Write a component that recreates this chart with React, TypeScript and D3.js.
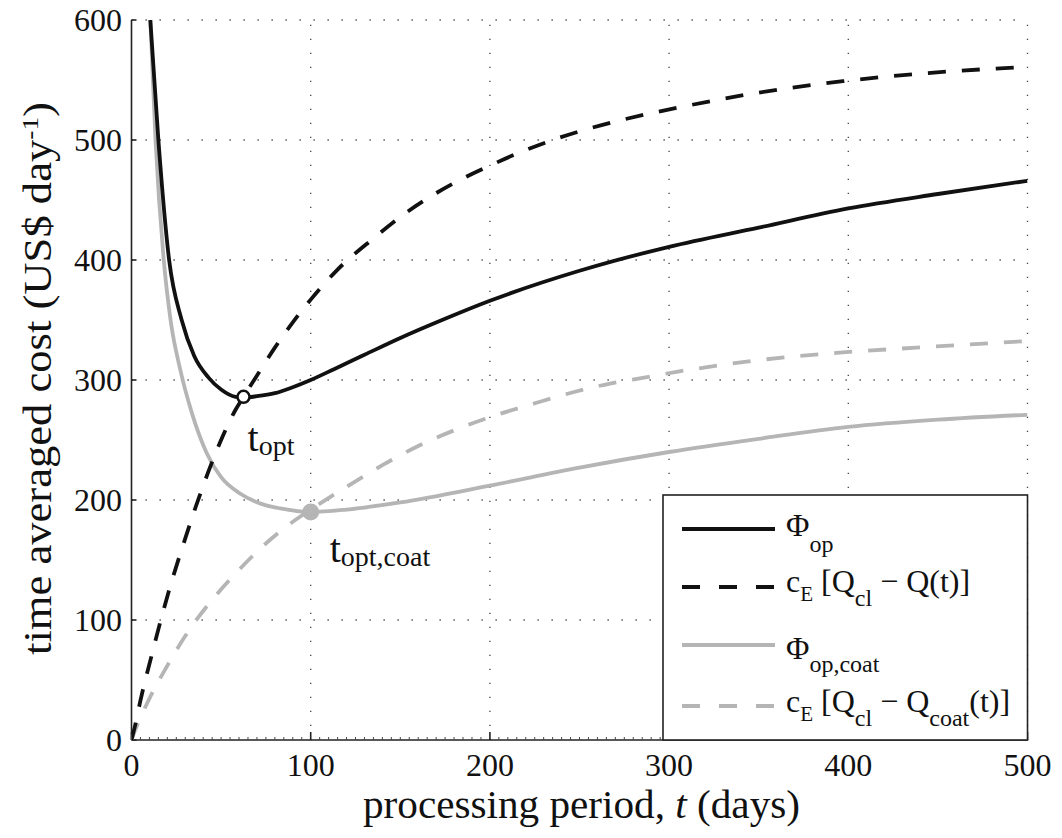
import React, { useEffect } from "react";
import * as d3 from "d3";

// Φop (black solid)
const phiOpT = [10.5, 15, 21, 28, 35, 43, 50, 58, 63, 70, 80, 90, 100, 113, 130, 150, 175, 200, 250, 300, 350, 400, 450, 500];
const phiOpV = [600, 500, 400, 350, 320, 302, 292, 286, 285.5, 286.5, 289, 294, 300, 309, 321, 335, 351, 366, 391, 411, 427, 443, 455, 466];

// cE [Qcl - Q(t)] (black dashed)
const cQT = [0, 2, 5, 11.5, 16, 22, 30, 36, 43, 50, 58, 62.5, 71, 80, 90, 100, 115, 135, 151, 167, 185, 202, 219, 237, 269, 286, 305, 344, 397, 438, 500];
const cQV = [0, 12, 33, 72, 98, 130, 168, 195, 224, 250, 275, 286, 306, 327, 348, 367, 392, 418, 437, 453, 468, 480, 491, 501, 515, 521, 527, 538, 549, 555, 561];

// Φop,coat (grey solid)
const phiCoatT = [10.5, 13.4, 18, 21.8, 27.3, 33.8, 42, 50, 61, 72, 83, 100, 120, 150, 200, 250, 300, 350, 400, 450, 500];
const phiCoatV = [600, 500, 400, 350, 308, 272, 239, 219, 205, 197, 193, 190, 192, 198, 212, 227, 240, 251, 261, 267, 271];

// cE [Qcl - Qcoat(t)] (grey dashed)
const cQCoatT = [0, 2, 9.5, 20, 31, 44, 57, 68, 79, 94, 100, 120, 140, 160, 180, 200, 226, 247, 267, 286, 305, 327, 347, 372, 397, 438, 500];
const cQCoatV = [0, 8, 33, 62, 89, 115, 137, 154, 169, 186, 192, 211, 229, 245, 258, 269, 281, 290, 297, 302, 307, 312, 316, 320, 323, 327, 332.5];

const xTicks = [0, 100, 200, 300, 400, 500];
const yTicks = [0, 100, 200, 300, 400, 500, 600];

const tOpt = { t: 62.5, v: 286 };
const tOptCoat = { t: 100, v: 190 };

const FONT = "'Liberation Serif', 'Times New Roman', Times, serif";
const GREY = "#b5b5b5";

const App = () => {
  useEffect(() => {
    document.body.style.margin = "0";
  }, []);

  const x = d3.scaleLinear().domain([0, 500]).range([131.5, 1027.5]);
  const y = d3.scaleLinear().domain([0, 600]).range([740, 20]);

  const line = d3
    .line<[number, number]>()
    .x((d) => x(d[0]))
    .y((d) => y(d[1]))
    .curve(d3.curveMonotoneX);

  const zip = (ts: number[], vs: number[]) => ts.map((t, i) => [t, vs[i]] as [number, number]);

  const minorTicks = d3.range(0, 501, 5).filter((v) => v % 100 !== 0);

  return (
    <svg width={1062} height={838} style={{ display: "block", background: "#fff", fontFamily: FONT }}>
      <defs>
        <clipPath id="plot">
          <rect x={x(0)} y={y(600)} width={x(500) - x(0)} height={y(0) - y(600)} />
        </clipPath>
      </defs>

      {/* grid */}
      <g stroke="#444" strokeWidth={1.3} strokeDasharray="1.3,12.7">
        {xTicks.slice(1).map((v) => (
          <line key={"gx" + v} x1={x(v)} x2={x(v)} y1={y(0)} y2={y(600)} />
        ))}
        {yTicks.slice(1).map((v) => (
          <line key={"gy" + v} x1={x(0)} x2={x(500)} y1={y(v)} y2={y(v)} />
        ))}
      </g>

      {/* axes */}
      <g stroke="#222" strokeWidth={1.6}>
        <line x1={x(0)} x2={x(0)} y1={y(0)} y2={y(600)} />
        <line x1={x(0)} x2={x(500)} y1={y(0)} y2={y(0)} />
        {xTicks.map((v) => (
          <line key={"tx" + v} x1={x(v)} x2={x(v)} y1={y(0)} y2={y(0) - 8} />
        ))}
        {yTicks.map((v) => (
          <line key={"ty" + v} x1={x(0)} x2={x(0) + 5} y1={y(v)} y2={y(v)} />
        ))}
      </g>
      <g stroke="#444" strokeWidth={1}>
        {minorTicks.map((v) => (
          <line key={"mx" + v} x1={x(v)} x2={x(v)} y1={y(0)} y2={y(0) - 3} />
        ))}
      </g>

      {/* tick labels */}
      <g fontSize={32} fill="#111">
        {xTicks.map((v) => (
          <text key={"lx" + v} x={x(v)} y={776} textAnchor="middle">
            {v}
          </text>
        ))}
        {yTicks.map((v) => (
          <text key={"ly" + v} x={122} y={y(v) + 11} textAnchor="end">
            {v}
          </text>
        ))}
      </g>

      {/* axis titles */}
      <text x={363} y={818} fontSize={39} textLength={437} lengthAdjust="spacingAndGlyphs" fill="#111">
        processing period, <tspan fontStyle="italic">t</tspan> (days)
      </text>
      <text transform="translate(51,655) rotate(-90)" fontSize={39} textLength={553} lengthAdjust="spacingAndGlyphs" fill="#111">
        time averaged cost (US$ day
        <tspan dy={-13} fontSize={24}>-1</tspan>
        <tspan dy={13}>)</tspan>
      </text>

      {/* curves */}
      <g clipPath="url(#plot)" fill="none" strokeLinejoin="round">
        <path d={line(zip(cQCoatT, cQCoatV)) || ""} stroke={GREY} strokeWidth={3.8} strokeDasharray="18,16" />
        <path d={line(zip(phiCoatT, phiCoatV)) || ""} stroke={GREY} strokeWidth={3.8} />
        <path d={line(zip(cQT, cQV)) || ""} stroke="#111" strokeWidth={3.8} strokeDasharray="18,16" />
        <path d={line(zip(phiOpT, phiOpV)) || ""} stroke="#111" strokeWidth={3.8} />
      </g>

      {/* optimum markers */}
      <circle cx={x(tOpt.t)} cy={y(tOpt.v)} r={6} fill="#fff" stroke="#111" strokeWidth={2.5} />
      <circle cx={x(tOptCoat.t)} cy={y(tOptCoat.v)} r={8.5} fill={GREY} />
      <text x={x(tOpt.t) + 4} y={y(tOpt.v) + 54} fontSize={40} fill="#111">
        t<tspan dy={4} fontSize={28}>opt</tspan>
      </text>
      <text x={x(tOptCoat.t) + 19} y={y(tOptCoat.v) + 50} fontSize={40} fill="#111">
        t<tspan dy={4} fontSize={28}>opt,coat</tspan>
      </text>

      {/* legend */}
      <g>
        <rect x={663} y={495} width={1027.5 - 663} height={740 - 495} fill="#fff" stroke="#222" strokeWidth={1.6} />
        <line x1={682} x2={775} y1={529} y2={529} stroke="#111" strokeWidth={3.8} />
        <line x1={682} x2={775} y1={587} y2={587} stroke="#111" strokeWidth={3.8} strokeDasharray="18,19" />
        <line x1={682} x2={775} y1={645} y2={645} stroke={GREY} strokeWidth={3.8} />
        <line x1={682} x2={775} y1={706} y2={706} stroke={GREY} strokeWidth={3.8} strokeDasharray="18,19" />
        <g fontSize={32} fill="#111">
          <text x={786} y={536}>
            Φ<tspan dy={16} fontSize={24}>op</tspan>
          </text>
          <text x={786} y={592}>
            c<tspan dy={9} fontSize={21}>E</tspan>
            <tspan dy={-9}> [Q</tspan>
            <tspan dy={14} fontSize={24}>cl</tspan>
            <tspan dy={-14}> − Q(t)]</tspan>
          </text>
          <text x={786} y={659}>
            Φ<tspan dy={13} fontSize={24}>op,coat</tspan>
          </text>
          <text x={786} y={712}>
            c<tspan dy={9} fontSize={21}>E</tspan>
            <tspan dy={-9}> [Q</tspan>
            <tspan dy={14} fontSize={24}>cl</tspan>
            <tspan dy={-14}> − Q</tspan>
            <tspan dy={14} fontSize={24}>coat</tspan>
            <tspan dy={-14}>(t)]</tspan>
          </text>
        </g>
      </g>
    </svg>
  );
};

export default App;
